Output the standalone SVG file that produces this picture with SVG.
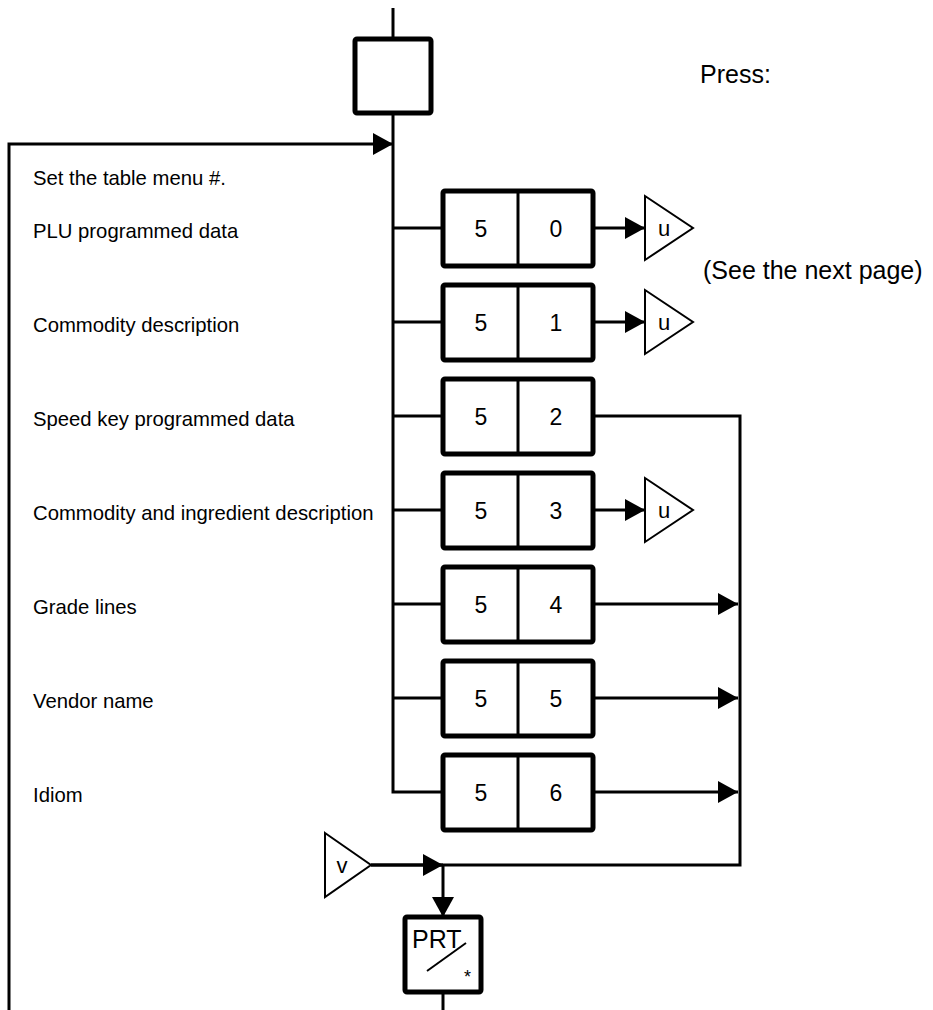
<svg xmlns="http://www.w3.org/2000/svg" width="933" height="1010" viewBox="0 0 933 1010">
<style>
.ln{stroke:#000;stroke-width:3;fill:none}
.bx{stroke:#000;stroke-width:5;fill:#fff}
.dv{stroke:#000;stroke-width:3}
.tri{stroke:#000;stroke-width:2;fill:#fff;stroke-linejoin:miter}
.lbl{font-family:"Liberation Sans",Arial,sans-serif;font-size:20.3px;fill:#000}
.big{font-family:"Liberation Sans",Arial,sans-serif;font-size:25px;fill:#000}
.num{font-family:"Liberation Sans",Arial,sans-serif;font-size:23px;fill:#000;text-anchor:middle}
.sym{font-family:"Liberation Sans",Arial,sans-serif;font-size:22px;fill:#000;text-anchor:middle}
</style>
<defs>
<marker id="ah" markerWidth="20" markerHeight="22" refX="20" refY="11" orient="auto" markerUnits="userSpaceOnUse"><path d="M0,0 L20,11 L0,22 z" fill="#000"/></marker>
</defs>
<g id="connectors">
<line class="ln" x1="393" y1="8" x2="393" y2="39"/>
<polyline class="ln" points="393,115 393,792 443,792"/>
<polyline class="ln" points="9,1010 9,144 393,144" marker-end="url(#ah)"/>
<line class="ln" x1="393" y1="228" x2="443" y2="228"/>
<line class="ln" x1="393" y1="322" x2="443" y2="322"/>
<line class="ln" x1="393" y1="416" x2="443" y2="416"/>
<line class="ln" x1="393" y1="510" x2="443" y2="510"/>
<line class="ln" x1="393" y1="604" x2="443" y2="604"/>
<line class="ln" x1="393" y1="698" x2="443" y2="698"/>
<line class="ln" x1="593" y1="228" x2="645" y2="228" marker-end="url(#ah)"/>
<line class="ln" x1="593" y1="322" x2="645" y2="322" marker-end="url(#ah)"/>
<line class="ln" x1="593" y1="510" x2="645" y2="510" marker-end="url(#ah)"/>
<polyline class="ln" points="593,416 740,416 740,865 371,865"/>
<line class="ln" x1="593" y1="604" x2="738" y2="604" marker-end="url(#ah)"/>
<line class="ln" x1="593" y1="698" x2="738" y2="698" marker-end="url(#ah)"/>
<line class="ln" x1="593" y1="792" x2="738" y2="792" marker-end="url(#ah)"/>
<line class="ln" x1="371" y1="865" x2="443" y2="865" marker-end="url(#ah)"/>
<line class="ln" x1="443" y1="865" x2="443" y2="917" marker-end="url(#ah)"/>
<line class="ln" x1="443" y1="992" x2="443" y2="1010"/>
</g>
<g id="start"><rect class="bx" x="355" y="39" width="76" height="74" rx="2"/></g>
<g id="labels">
<text class="big" x="700" y="83">Press:</text>
<text class="big" x="703" y="279">(See the next page)</text>
<text class="lbl" x="33" y="185">Set the table menu #.</text>
<text class="lbl" x="33" y="238">PLU programmed data</text>
<text class="lbl" x="33" y="332">Commodity description</text>
<text class="lbl" x="33" y="426">Speed key programmed data</text>
<text class="lbl" x="33" y="520">Commodity and ingredient description</text>
<text class="lbl" x="33" y="614">Grade lines</text>
<text class="lbl" x="33" y="708">Vendor name</text>
<text class="lbl" x="33" y="802">Idiom</text>
</g>
<g id="key50"><rect class="bx" x="443" y="191" width="150" height="75" rx="2"/><line class="dv" x1="518" y1="191" x2="518" y2="266"/><text class="num" x="481" y="237">5</text><text class="num" x="556" y="237">0</text></g>
<g id="key51"><rect class="bx" x="443" y="285" width="150" height="75" rx="2"/><line class="dv" x1="518" y1="285" x2="518" y2="360"/><text class="num" x="481" y="331">5</text><text class="num" x="556" y="331">1</text></g>
<g id="key52"><rect class="bx" x="443" y="379" width="150" height="75" rx="2"/><line class="dv" x1="518" y1="379" x2="518" y2="454"/><text class="num" x="481" y="425">5</text><text class="num" x="556" y="425">2</text></g>
<g id="key53"><rect class="bx" x="443" y="473" width="150" height="75" rx="2"/><line class="dv" x1="518" y1="473" x2="518" y2="548"/><text class="num" x="481" y="519">5</text><text class="num" x="556" y="519">3</text></g>
<g id="key54"><rect class="bx" x="443" y="567" width="150" height="75" rx="2"/><line class="dv" x1="518" y1="567" x2="518" y2="642"/><text class="num" x="481" y="613">5</text><text class="num" x="556" y="613">4</text></g>
<g id="key55"><rect class="bx" x="443" y="661" width="150" height="75" rx="2"/><line class="dv" x1="518" y1="661" x2="518" y2="736"/><text class="num" x="481" y="707">5</text><text class="num" x="556" y="707">5</text></g>
<g id="key56"><rect class="bx" x="443" y="755" width="150" height="75" rx="2"/><line class="dv" x1="518" y1="755" x2="518" y2="830"/><text class="num" x="481" y="801">5</text><text class="num" x="556" y="801">6</text></g>
<g id="u1"><polygon class="tri" points="645,196 693,228 645,260"/><text class="sym" x="664" y="236">u</text></g>
<g id="u2"><polygon class="tri" points="645,290 693,322 645,354"/><text class="sym" x="664" y="330">u</text></g>
<g id="u3"><polygon class="tri" points="645,478 693,510 645,542"/><text class="sym" x="664" y="518">u</text></g>
<g id="v"><polygon class="tri" points="325,833 371,865 325,897"/><text class="sym" x="342" y="873">v</text></g>
<g id="prt"><rect class="bx" x="405" y="917" width="76" height="75" rx="2"/><text class="big" x="412" y="948">PRT</text><line class="ln" x1="427" y1="971" x2="466" y2="943" style="stroke-width:2"/><text class="lbl" x="464" y="983" style="font-size:18px">*</text></g>
</svg>
